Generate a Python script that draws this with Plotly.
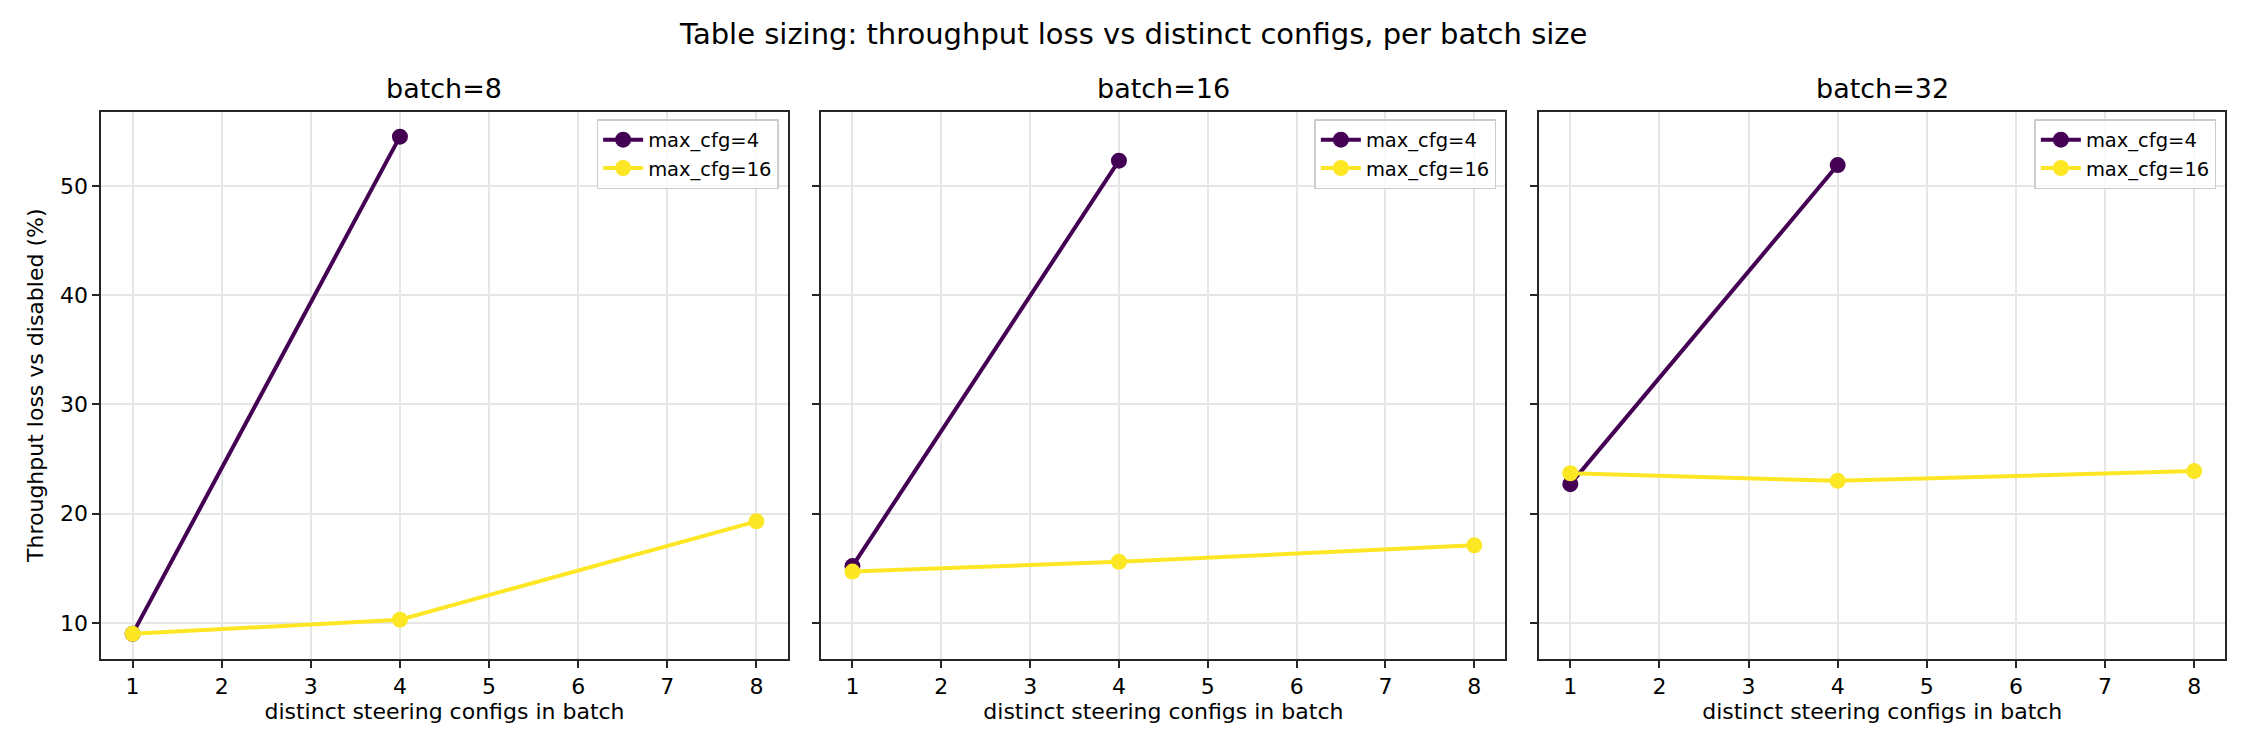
import plotly.graph_objects as go

# Data
configs_cfg4 = [1, 4]
configs_cfg16 = [1, 4, 8]

batch_sizes = [8, 16, 32]
loss_cfg4 = {8: [9.0, 54.5], 16: [15.2, 52.3], 32: [22.7, 51.9]}
loss_cfg16 = {8: [9.0, 10.3, 19.3], 16: [14.7, 15.6, 17.1], 32: [23.7, 23.0, 23.9]}

x_ticks = [1, 2, 3, 4, 5, 6, 7, 8]

PURPLE = "#440154"
YELLOW = "#fde725"
FONT = "DejaVu Sans"

domains = [(0.0415, 0.3465), (0.3615, 0.6655), (0.6805, 0.9855)]
y_domain = (0.132, 0.862)

fig = go.Figure()

for i, b in enumerate(batch_sizes):
    n = "" if i == 0 else str(i + 1)
    leg = "legend" if i == 0 else "legend" + str(i + 1)
    fig.add_trace(go.Scatter(x=configs_cfg4, y=loss_cfg4[b], mode="lines+markers", name="max_cfg=4",
                             line=dict(color=PURPLE, width=4), marker=dict(size=16, color=PURPLE),
                             xaxis="x" + n, yaxis="y" + n, legend=leg))
    fig.add_trace(go.Scatter(x=configs_cfg16, y=loss_cfg16[b], mode="lines+markers", name="max_cfg=16",
                             line=dict(color=YELLOW, width=4), marker=dict(size=16, color=YELLOW),
                             xaxis="x" + n, yaxis="y" + n, legend=leg))

axis_common = dict(showline=True, linecolor="#262626", linewidth=2, mirror=True,
                   ticks="outside", ticklen=7, tickwidth=2, tickcolor="#262626",
                   showgrid=True, gridcolor="#e6e6e6", gridwidth=1.5, zeroline=False,
                   tickfont=dict(family=FONT, size=22, color="black"))

layout = dict(
    width=2250, height=750,
    paper_bgcolor="white", plot_bgcolor="white",
    margin=dict(l=0, r=0, t=0, b=0),
    font=dict(family=FONT, color="black"),
    annotations=[],
)

for i, b in enumerate(batch_sizes):
    n = "" if i == 0 else str(i + 1)
    layout["xaxis" + n] = dict(axis_common, domain=list(domains[i]), anchor="y" + n,
                               range=[0.65, 8.35], tickvals=x_ticks,
                               title=dict(text="distinct steering configs in batch",
                                          font=dict(family=FONT, size=22), standoff=5))
    ya = dict(axis_common, domain=list(y_domain), anchor="x" + n, range=[6.7, 56.8],
              tickvals=[10, 20, 30, 40, 50])
    if i == 0:
        ya["title"] = dict(text="Throughput loss vs disabled (%)", font=dict(family=FONT, size=22), standoff=10)
    else:
        ya["showticklabels"] = False
    layout["yaxis" + n] = ya

    leg = "legend" if i == 0 else "legend" + str(i + 1)
    layout[leg] = dict(x=domains[i][1] - 0.004, y=y_domain[1] - 0.01, xanchor="right", yanchor="top",
                       bgcolor="rgba(255,255,255,0.8)", bordercolor="#cccccc", borderwidth=1.5,
                       font=dict(family=FONT, size=19.5), itemwidth=40, tracegroupgap=2)

    layout["annotations"].append(dict(text="batch=%d" % b, xref="paper", yref="paper",
                                      x=(domains[i][0] + domains[i][1]) / 2, y=y_domain[1],
                                      xanchor="center", yanchor="bottom", yshift=6, showarrow=False,
                                      font=dict(family=FONT, size=27)))

layout["annotations"].append(dict(text="Table sizing: throughput loss vs distinct configs, per batch size",
                                  xref="paper", yref="paper", x=0.5, y=1 - 26 / 750,
                                  xanchor="center", yanchor="middle", showarrow=False,
                                  font=dict(family=FONT, size=29)))

fig.update_layout(layout)
fig.write_html("out.html")
